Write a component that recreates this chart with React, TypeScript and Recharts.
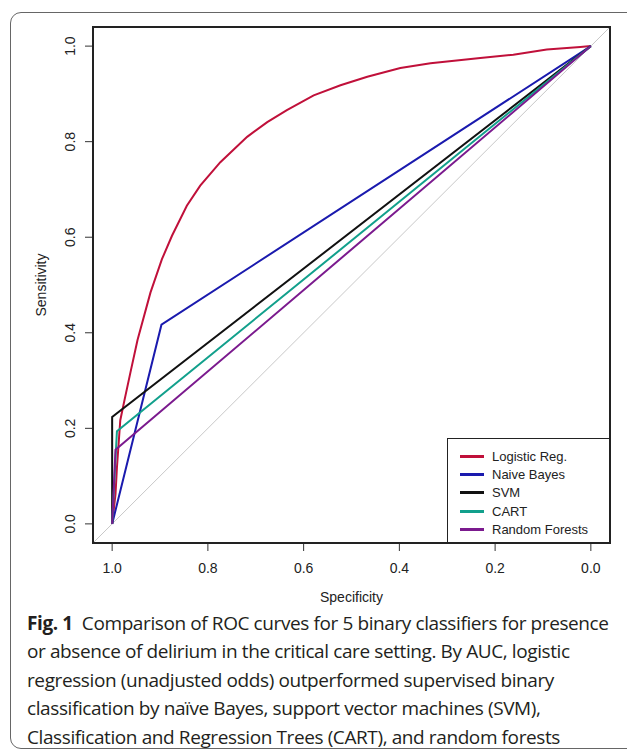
import React from 'react';
import { LineChart, Line, XAxis, YAxis, ReferenceLine, Legend } from 'recharts';

// axis ticks
const specTicks = [1.0, 0.8, 0.6, 0.4, 0.2, 0.0];
const sensTicks = [0.0, 0.2, 0.4, 0.6, 0.8, 1.0];

// ROC curves (specificity, sensitivity)
const logisticSpec = [1.0, 0.993, 0.99, 0.983, 0.974, 0.962, 0.947, 0.92, 0.896, 0.875, 0.844, 0.816, 0.774, 0.718, 0.676, 0.635, 0.579, 0.523, 0.467, 0.398, 0.335, 0.231, 0.162, 0.092, 0.022, 0.0];
const logisticSens = [0.0, 0.062, 0.118, 0.217, 0.26, 0.316, 0.385, 0.484, 0.554, 0.603, 0.666, 0.708, 0.757, 0.81, 0.841, 0.866, 0.897, 0.918, 0.936, 0.954, 0.964, 0.975, 0.982, 0.993, 0.998, 1.0];
const bayesSpec = [1.0, 0.897, 0.0];
const bayesSens = [0.0, 0.417, 1.0];
const svmSpec = [1.0, 1.0, 0.0];
const svmSens = [0.0, 0.224, 1.0];
const cartSpec = [1.0, 0.99, 0.0];
const cartSens = [0.0, 0.194, 1.0];
const forestSpec = [1.0, 0.993, 0.0];
const forestSens = [0.0, 0.155, 1.0];

const seriesNames = ['Logistic Reg.', 'Naive Bayes', 'SVM', 'CART', 'Random Forests'];
const seriesColors = ['#C0103A', '#1A1AAE', '#111111', '#12A08C', '#7B1A8E'];

const toRows = (spec: number[], sens: number[]) => spec.map((s, i) => ({ spec: s, sens: sens[i] }));

const series = [
  toRows(logisticSpec, logisticSens),
  toRows(bayesSpec, bayesSens),
  toRows(svmSpec, svmSens),
  toRows(cartSpec, cartSens),
  toRows(forestSpec, forestSens),
];

const LO = -0.04;
const HI = 1.04;
const chartFont = '"Liberation Sans", Arial, sans-serif';

const YTick = (props: any) => {
  const { x, y, payload } = props;
  const bx = x - 2;
  return (
    <text x={bx} y={y} transform={`rotate(-90 ${bx} ${y})`} textAnchor="middle" fontSize={14} fill="#222" fontFamily={chartFont}>
      {Number(payload.value).toFixed(1)}
    </text>
  );
};

const XTick = (props: any) => {
  const { x, y, payload } = props;
  return (
    <text x={x} y={y + 20} textAnchor="middle" fontSize={14} fill="#222" fontFamily={chartFont}>
      {Number(payload.value).toFixed(1)}
    </text>
  );
};

const XTitle = (props: any) => {
  const vb = props.viewBox || { x: 93, y: 543, width: 517 };
  return (
    <text x={vb.x + vb.width / 2} y={vb.y + 59} textAnchor="middle" fontSize={14} fill="#222" fontFamily={chartFont}>
      Specificity
    </text>
  );
};

const YTitle = (props: any) => {
  const vb = props.viewBox || { x: 0, y: 27, height: 516 };
  const cx = 46;
  const cy = vb.y + vb.height / 2;
  return (
    <text x={cx} y={cy} transform={`rotate(-90 ${cx} ${cy})`} textAnchor="middle" fontSize={14} fill="#222" fontFamily={chartFont}>
      Sensitivity
    </text>
  );
};

const LegendBox = () => (
  <div style={{ border: '1px solid #222', width: 163, height: 105, boxSizing: 'border-box', padding: '8px 0 0 12px', background: '#fff', fontFamily: chartFont, fontSize: 13, color: '#222' }}>
    {seriesNames.map((name, i) => (
      <div key={name} style={{ display: 'flex', alignItems: 'center', height: 18.3 }}>
        <span style={{ display: 'inline-block', width: 24, height: 3, background: seriesColors[i], marginRight: 8 }} />
        <span>{name}</span>
      </div>
    ))}
  </div>
);

const App: React.FC = () => {
  return (
    <div style={{ position: 'absolute', left: 0, top: 0, width: 627, height: 749, overflow: 'hidden', background: '#fff' }}>
      <div style={{ position: 'absolute', left: 10, top: 12, width: 660, height: 737, border: '1.5px solid #666', borderRadius: 11, boxSizing: 'border-box' }} />
      <div style={{ position: 'absolute', left: 0, top: 0 }}>
        <LineChart width={627} height={610} margin={{ top: 27, right: 17, bottom: 27, left: 0 }}>
          <XAxis
            type="number"
            dataKey="spec"
            domain={[LO, HI]}
            reversed
            allowDataOverflow
            ticks={specTicks}
            axisLine={false}
            tickLine={{ stroke: '#333' }}
            tickSize={8}
            height={40}
            tick={<XTick />}
            label={{ content: <XTitle /> }}
          />
          <YAxis
            type="number"
            dataKey="sens"
            domain={[LO, HI]}
            allowDataOverflow
            ticks={sensTicks}
            axisLine={false}
            tickLine={{ stroke: '#333' }}
            tickSize={8}
            tickMargin={8}
            width={93}
            tick={<YTick />}
            label={{ content: <YTitle /> }}
          />
          <ReferenceLine segment={[{ x: HI, y: LO }, { x: LO, y: HI }]} stroke="#c8c8c8" strokeWidth={1} />
          {series.map((rows, i) => (
            <Line
              key={seriesNames[i]}
              name={seriesNames[i]}
              data={rows}
              dataKey="sens"
              type="linear"
              stroke={seriesColors[i]}
              strokeWidth={2}
              dot={false}
              isAnimationActive={false}
            />
          ))}
          <Legend
            layout="vertical"
            align="center"
            verticalAlign="middle"
            content={<LegendBox />}
            wrapperStyle={{ left: 447, top: 438, width: 163, height: 105 }}
          />
        </LineChart>
      </div>
      {/* plot box */}
      <div style={{ position: 'absolute', left: 92, top: 26, width: 519, height: 518, border: '2px solid #222', boxSizing: 'border-box', pointerEvents: 'none', zIndex: 5 }} />
      <div style={{ position: 'absolute', left: 27, top: 609, fontFamily: '"Open Sans", sans-serif', fontSize: 19, lineHeight: '28.4px', color: '#231f20', whiteSpace: 'nowrap', letterSpacing: -0.4 }}>
        <b>Fig. 1</b>&nbsp; Comparison of ROC curves for 5 binary classifiers for presence<br />
        or absence of delirium in the critical care setting. By AUC, logistic<br />
        regression (unadjusted odds) outperformed supervised binary<br />
        classification by naïve Bayes, support vector machines (SVM),<br />
        Classification and Regression Trees (CART), and random forests
      </div>
    </div>
  );
};

export default App;
